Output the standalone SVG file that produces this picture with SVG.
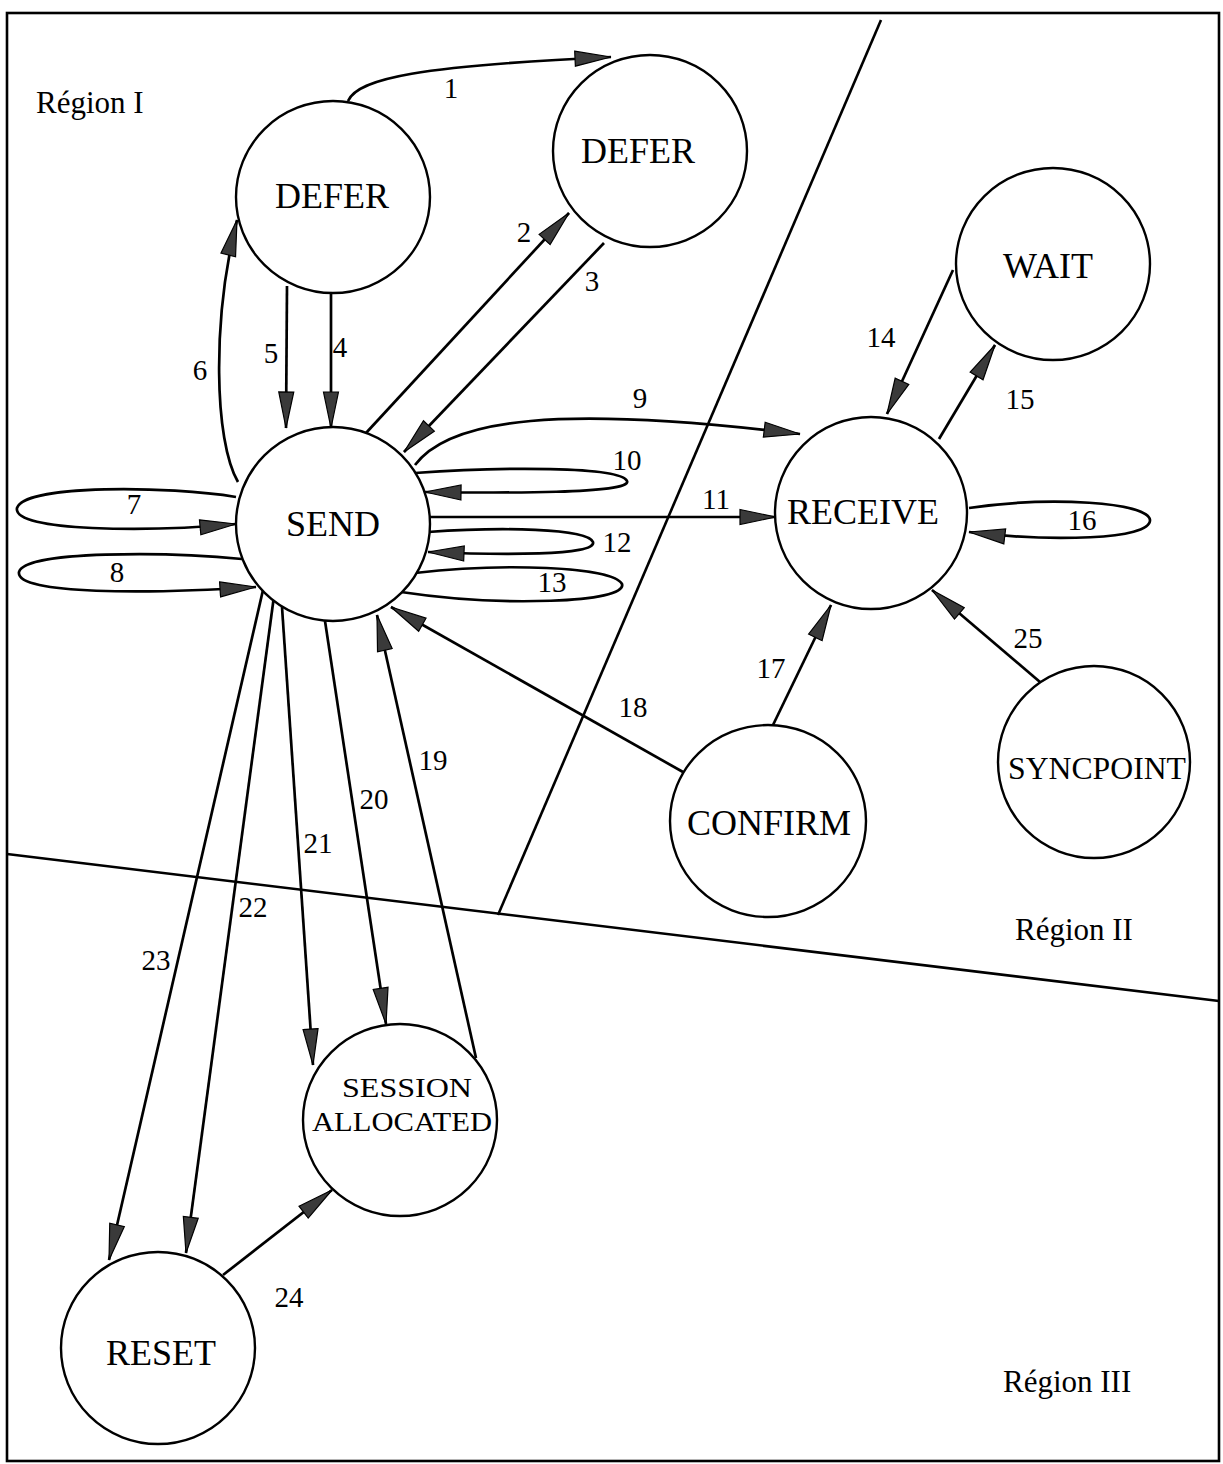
<svg xmlns="http://www.w3.org/2000/svg" width="1223" height="1464" viewBox="0 0 1223 1464">
<style>
.node{fill:#fff;stroke:#000;stroke-width:2.4}
.nl{font-family:"Liberation Serif","Times New Roman",serif;font-size:36px;fill:#000;text-anchor:middle}
.nls{font-family:"Liberation Serif","Times New Roman",serif;font-size:28px;fill:#000;text-anchor:middle}
.num{font-family:"Liberation Serif","Times New Roman",serif;font-size:29px;fill:#000;text-anchor:middle}
.reg{font-family:"Liberation Serif","Times New Roman",serif;font-size:31px;fill:#000}
.e{fill:none;stroke:#000;stroke-width:2.7}
.ea{fill:none;stroke:#000;stroke-width:2.7;marker-end:url(#ah)}
.bd{fill:none;stroke:#000;stroke-width:2.6}
</style>
<defs>
<marker id="ah" viewBox="0 0 38 18" refX="37" refY="9" markerWidth="38" markerHeight="18" orient="auto" markerUnits="userSpaceOnUse">
<path d="M1,1.5 L37,9 L1,16.5 z" fill="#3a3a3a" stroke="#000" stroke-width="1.2"/>
</marker>
</defs>
<rect width="1223" height="1464" fill="#fff"/>
<g id="regions">
<rect class="bd" x="7" y="13" width="1212" height="1448"/>
<line class="bd" x1="881" y1="20" x2="498" y2="915"/>
<line class="bd" x1="7" y1="854" x2="1219" y2="1001"/>
<text class="reg" x="36" y="113">Région I</text>
<text class="reg" x="1015" y="940">Région II</text>
<text class="reg" x="1003" y="1392">Région III</text>
</g>
<g id="connectors">
<path class="ea" d="M348,101 C358,78 420,66 611,57"/>
<path class="ea" d="M366,433 L569,213"/>
<path class="ea" d="M604,243 L404,452"/>
<path class="ea" d="M331,293 L331,428"/>
<path class="ea" d="M287,286 L286,428"/>
<path class="ea" d="M238,482 C214,440 212,320 237,220"/>
<path class="ea" d="M236,497 C170,486 25,484 17,508 C12,532 150,532 236,524"/>
<path class="ea" d="M242,559 C170,552 25,550 19,572 C15,595 150,594 256,587"/>
<path class="ea" d="M415,465 C450,418 560,405 800,434"/>
<path class="ea" d="M415,473 C500,467 620,466 627,481 C633,494 500,493 425,492"/>
<path class="ea" d="M428,517 L776,517"/>
<path class="ea" d="M428,532 C500,527 587,528 593,542 C597,556 500,555 428,552"/>
<path class="e" d="M415,573 C500,563 612,566 622,584 C628,603 500,607 401,592"/>
<path class="ea" d="M953,270 L887,414"/>
<path class="ea" d="M939,439 L995,345"/>
<path class="ea" d="M969,508 C1050,496 1148,502 1150,520 C1151,540 1050,542 969,532"/>
<path class="ea" d="M773,725 L831,605"/>
<path class="ea" d="M683,772 L391,607"/>
<path class="ea" d="M1040,682 L932,590"/>
<path class="ea" d="M476,1058 L377,615"/>
<path class="ea" d="M325,621 L386,1024"/>
<path class="ea" d="M282,607 L313,1065"/>
<path class="ea" d="M274,596 L186,1253"/>
<path class="ea" d="M263,590 L109,1260"/>
<path class="ea" d="M223,1275 L332,1190"/>
<g id="edge-labels">
<text class="num" x="451" y="98">1</text>
<text class="num" x="524" y="242">2</text>
<text class="num" x="592" y="291">3</text>
<text class="num" x="340" y="357">4</text>
<text class="num" x="271" y="363">5</text>
<text class="num" x="200" y="380">6</text>
<text class="num" x="134" y="514">7</text>
<text class="num" x="117" y="582">8</text>
<text class="num" x="640" y="408">9</text>
<text class="num" x="627" y="470">10</text>
<text class="num" x="716" y="509">11</text>
<text class="num" x="617" y="552">12</text>
<text class="num" x="552" y="592">13</text>
<text class="num" x="881" y="347">14</text>
<text class="num" x="1020" y="409">15</text>
<text class="num" x="1082" y="530">16</text>
<text class="num" x="771" y="678">17</text>
<text class="num" x="633" y="717">18</text>
<text class="num" x="433" y="770">19</text>
<text class="num" x="374" y="809">20</text>
<text class="num" x="318" y="853">21</text>
<text class="num" x="253" y="917">22</text>
<text class="num" x="156" y="970">23</text>
<text class="num" x="289" y="1307">24</text>
<text class="num" x="1028" y="648">25</text>
</g>
</g>
<g id="defer1"><ellipse class="node" cx="333" cy="197" rx="97" ry="96"/><text class="nl" x="332" y="208">DEFER</text></g>
<g id="defer2"><ellipse class="node" cx="650" cy="151" rx="97" ry="96"/><text class="nl" x="638" y="163">DEFER</text></g>
<g id="wait"><ellipse class="node" cx="1053" cy="264" rx="97" ry="96"/><text class="nl" x="1048" y="278">WAIT</text></g>
<g id="send"><ellipse class="node" cx="333" cy="524" rx="97" ry="97"/><text class="nl" x="333" y="536">SEND</text></g>
<g id="receive"><ellipse class="node" cx="871" cy="513" rx="96" ry="96"/><text class="nl" x="863" y="524">RECEIVE</text></g>
<g id="confirm"><ellipse class="node" cx="768" cy="821" rx="98" ry="96"/><text class="nl" x="769" y="835">CONFIRM</text></g>
<g id="syncpoint"><ellipse class="node" cx="1094" cy="762" rx="96" ry="96"/><text class="nls" x="1097" y="779" style="font-size:32px" textLength="178" lengthAdjust="spacingAndGlyphs">SYNCPOINT</text></g>
<g id="session-allocated"><ellipse class="node" cx="400" cy="1120" rx="97" ry="96"/><text class="nls" x="407" y="1097" textLength="130" lengthAdjust="spacingAndGlyphs">SESSION</text><text class="nls" x="402" y="1131" textLength="180" lengthAdjust="spacingAndGlyphs">ALLOCATED</text></g>
<g id="reset"><ellipse class="node" cx="158" cy="1348" rx="97" ry="96"/><text class="nl" x="161" y="1365">RESET</text></g>
</svg>
